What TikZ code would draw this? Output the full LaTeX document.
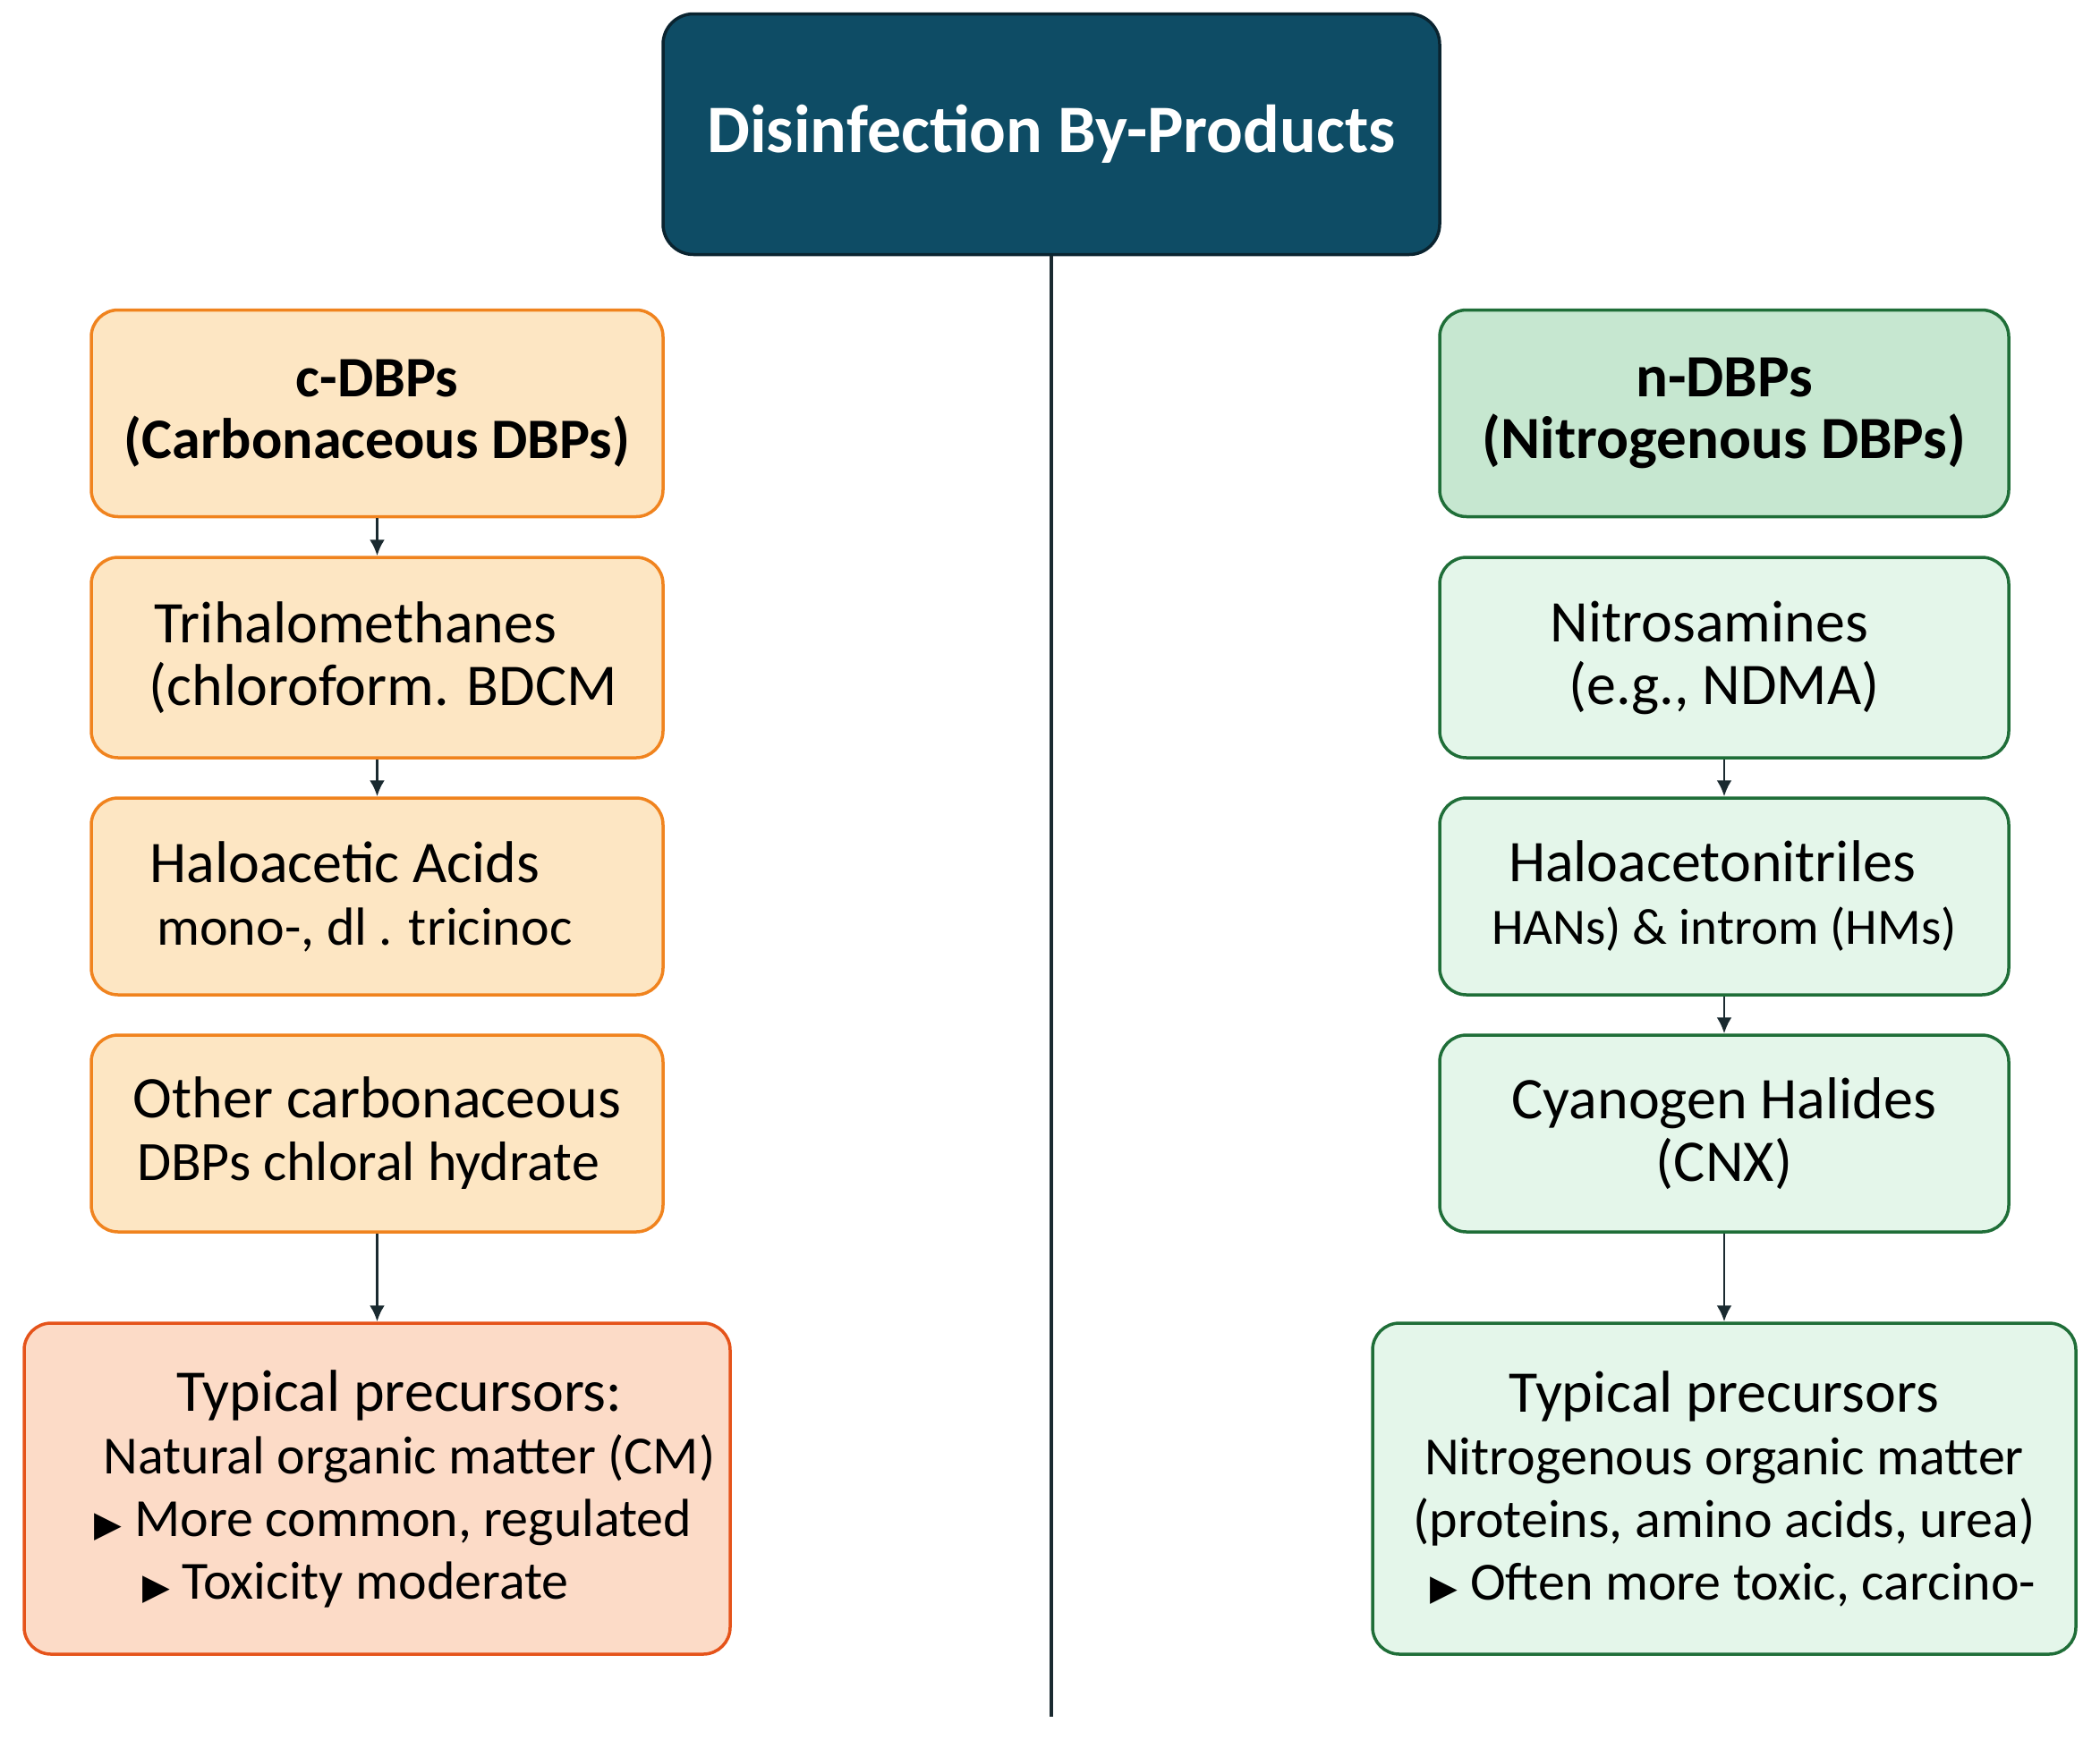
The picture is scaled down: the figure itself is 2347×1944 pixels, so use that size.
\documentclass[tikz,border=0pt]{standalone}
\usepackage{fontspec}
\setmainfont{Carlito}
\newfontfamily\symf{DejaVu Sans}
\usetikzlibrary{arrows.meta}
\definecolor{topfill}{HTML}{0E4C65}
\definecolor{topline}{HTML}{0A2430}
\definecolor{ofill}{HTML}{FDE6C3}
\definecolor{oline}{HTML}{F0831E}
\definecolor{rfill}{HTML}{FCDBC7}
\definecolor{rline}{HTML}{E5531A}
\definecolor{gfillA}{HTML}{C6E7D0}
\definecolor{gfill}{HTML}{E4F6EA}
\definecolor{gline}{HTML}{1F6E38}
\definecolor{conn}{HTML}{1A2A30}
\newcommand\fsBig{\fontsize{66}{70}\selectfont}
\newcommand\fsSm{\fontsize{60}{70}\selectfont}
\newcommand\fsXs{\fontsize{57}{70}\selectfont}
\newcommand\tri{{\symf\fontsize{40}{70}\selectfont ▶}}
\tikzset{
  base/.style={rounded corners=30pt, line width=3.5pt, align=center, inner sep=0pt,
    font=\fsBig},
  obox/.style={base, draw=oline, fill=ofill, minimum width=639pt},
  gbox/.style={base, draw=gline, fill=gfill, minimum width=636pt},
  arr/.style={draw=conn, line width=2.8pt, -{Latex[length=18pt,width=17pt]}},
}
\begin{document}
\begin{tikzpicture}[x=1pt,y=-1pt]
\useasboundingbox[fill=white] (0,0) rectangle (2347,1944);
% title
\node[base, rounded corners=34pt, draw=topline, fill=topfill, text=white,
  minimum width=868pt, minimum height=269pt,
  font=\fontsize{76}{80}\selectfont\bfseries] (top) at (1175,150) {Disinfection By-Products};
\coordinate (bot) at (1175,1919);
\draw[draw=conn, line width=4pt] (top.south) -- (bot);
% left column
\node[obox, minimum height=231pt, font=\fontsize{64}{69}\selectfont\bfseries] (c1) at (421.5,462)
  {c-DBPs\\(Carbonaceous DBPs)};
\node[obox, minimum height=224pt] (c2) at (421.5,735)
  {\hspace*{-48pt}Trihalomethanes\\\hspace*{14pt}(chloroform. BDCM};
\node[obox, minimum height=220pt] (c3) at (421.5,1002)
  {\hspace*{-72pt}Haloacetic Acids\\{\fsSm\hspace*{-28pt}mono-, dl . tricinoc}};
\node[obox, minimum height=220pt] (c4) at (421.5,1267)
  {Other carbonaceous\\{\fontsize{62}{70}\selectfont\hspace*{-20pt}DBPs chloral hydrate}};
\node[base, draw=rline, fill=rfill, minimum width=789pt, minimum height=370pt] (c5) at (421.5,1664)
  {\hspace*{50pt}Typical precursors:\\{\fsSm\hspace*{72pt}Natural organic matter (CM)}\\{\fsSm\hspace*{36pt}\tri\ More common, regulated}\\{\fsSm\hspace*{-48pt}\tri\ Toxicity moderate}};
% right column
\node[gbox, fill=gfillA, minimum height=231pt, font=\fontsize{67}{69}\selectfont\bfseries] (n1) at (1927,462)
  {n-DBPs\\(Nitrogenous DBPs)};
\node[gbox, minimum height=224pt] (n2) at (1927,735)
  {\hspace*{-33pt}Nitrosamines\\(e.g., NDMA)};
\node[gbox, minimum height=220pt] (n3) at (1927,1002)
  {\hspace*{-27pt}Haloacetonitriles\\{\fsXs HANs) \& introm (HMs)}};
\node[gbox, minimum height=220pt] (n4) at (1927,1267)
  {Cyanogen Halides\\(CNX)};
\node[base, draw=gline, fill=gfill, minimum width=786pt, minimum height=370pt] (n5) at (1927,1664)
  {Typical precursors\\{\fsSm Nitrogenous organic matter}\\{\fsSm (proteins, amino acids, urea)}\\{\fsSm\hspace*{20pt}\tri\ Often more toxic, carcino-}};
% arrows
\draw[arr] (c1) -- (c2);
\draw[arr] (c2) -- (c3);
\draw[arr] (c4) -- (c5);
\draw[arr] (n2) -- (n3);
\draw[arr] (n3) -- (n4);
\draw[arr] (n4) -- (n5);
\end{tikzpicture}
\end{document}
